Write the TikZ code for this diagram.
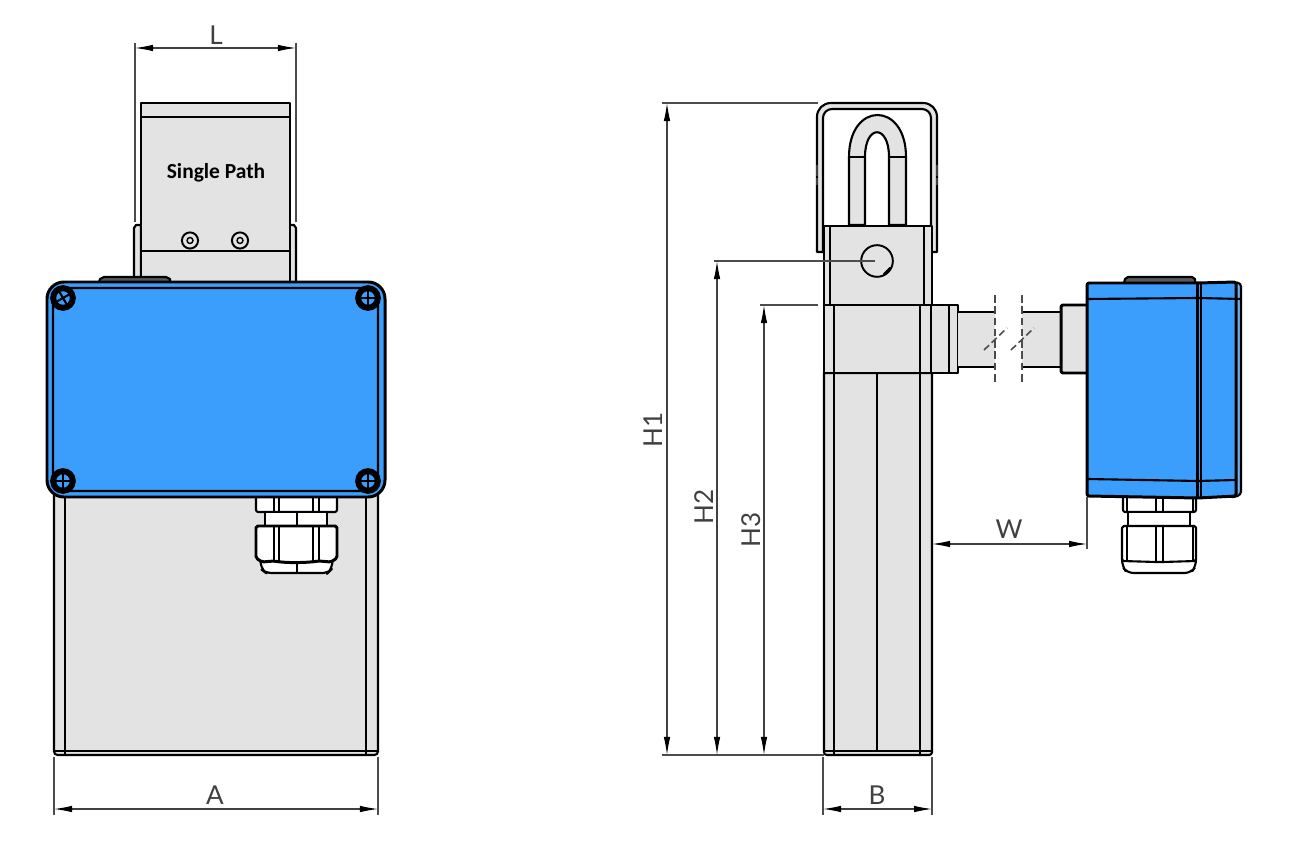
\documentclass[tikz,border=0pt]{standalone}
\usepackage{fontspec}
\setmainfont{Lato}
\newfontfamily\platefont{Carlito}
\usetikzlibrary{arrows.meta}
\definecolor{boxblue}{HTML}{3B9EFD}
\definecolor{stripblue}{HTML}{6FB2EE}
\definecolor{partgrey}{HTML}{E3E3E3}
\definecolor{knobgrey}{HTML}{555A60}
\tikzset{
    part/.style={draw=black,line width=0.6pt,line join=round},
    heavy/.style={draw=black,line width=0.85pt,line join=round},
    dimline/.style={draw=black!75,line width=0.3pt,{Latex[length=1.8mm,width=0.65mm,black]}-{Latex[length=1.8mm,width=0.65mm,black]}},
    extline/.style={draw=black!70,line width=0.3pt},
    dimlabel/.style={font=\fontsize{7.4}{8}\selectfont,text=black!75,inner sep=0pt},
    smallscrew/.style={draw=black,circle,line width=0.55pt,fill=partgrey,minimum size=4.6pt,inner sep=0pt},
    smallbore/.style={draw=black,circle,line width=0.4pt,minimum size=1.7pt,inner sep=0pt},
    boxscrew/.style={draw=black,circle,line width=1.7pt,fill=boxblue,minimum size=5.6pt,inner sep=0pt}
}
\begin{document}
\begin{tikzpicture}[x=0.01cm,y=-0.01cm]
    \useasboundingbox (0,0) rectangle (1300,855);

    %front view, bracket
    \draw[part,fill=partgrey] (134,281) -- (134,228) -- (136,225) -- (141,225) -- (141,281);
    \draw[part,fill=partgrey] (296,281) -- (296,228) -- (294,225) -- (289,225) -- (289,281);
    \draw[part,fill=partgrey] (141,281) -- (141,103) -- (290,103) -- (290,281);
    \draw[part] (141,117) -- (290,117);
    \draw[part] (141,251) -- (290,251);
    \node[font=\platefont\bfseries\fontsize{6.1}{7}\selectfont,inner sep=0pt] (platetext) at (216,173) {Single Path};
    \foreach \x in {190,240} {
        \node[smallscrew] (screw\x) at (\x,240.5) {};
        \node[smallbore] (bore\x) at (\x,240.5) {};
    }
    \draw[part,fill=knobgrey] (99,282) -- (100,279) -- (104,277) -- (166,277) -- (170,279) -- (170,282);

    %front view, body
    \draw[part,fill=partgrey] (54,490) [rounded corners=1] -- (54,755) -- (378,755) [sharp corners] -- (378,490) -- cycle;
    \draw[part] (65,497) -- (65,755);
    \draw[part] (366,497) -- (366,755);
    \draw[part] (54,751) -- (378,751);

    %front view, cable gland
    \draw[part,fill=white,rounded corners=0.6] (256,497) -- (256,512) -- (337,512) -- (337,497);
    \draw[part,fill=white] (265,512) rectangle (327,526);
    \draw[part] (297,512) -- (297,526);
    \draw[part,fill=white,rounded corners=1.6] (260,559) -- (262,570) -- (266,573) -- (328,573) -- (331,570) -- (333,559);
    \draw[part] (297,560) -- (297,573);
    \draw[heavy,fill=white,rounded corners=0.5] (256,526) -- (256,558) -- (262,562) -- (274,561) .. controls (285,563) and (305,563) .. (319,561) -- (331,562) -- (337,558) -- (337,526) -- cycle;
    \foreach \x in {274,279,313,319} {
        \draw[part] (\x,497) -- (\x,512);
        \draw[part] (\x,526) -- (\x,561);
    }

    %front view, blue lid
    \draw[heavy,fill=boxblue,rounded corners=4.8] (47,282) rectangle (385,497);
    \draw[part,rounded corners=2.4] (53,288) rectangle (378,491);
    \foreach \x/\y/\n/\r in {63/298/a/30,368/298/b/0,63/481/c/0,368/481/d/0} {
        \node[boxscrew] (lid\n) at (\x,\y) {};
        \draw[part,rotate around={\r:(\x,\y)}] (\x-7,\y) -- (\x+7,\y);
        \draw[part,rotate around={\r:(\x,\y)}] (\x,\y-7) -- (\x,\y+7);
    }

    %side view, lower body
    \draw[part,fill=partgrey] (824,373) [rounded corners=0.8] -- (824,755) -- (932,755) [sharp corners] -- (932,373) -- cycle;
    \draw[part] (834,373) -- (834,755);
    \draw[part] (920,373) -- (920,755);
    \draw[part] (877,373) -- (877,751);
    \draw[part] (824,751) -- (932,751);

    %side view, hook and bracket
    \draw[part,fill=partgrey] (817,252) -- (817,117) .. controls (817,109) and (823,103) .. (831,103) -- (923,103) .. controls (931,103) and (937,109) .. (937,117) -- (937,252) -- (931,252) -- (931,118) .. controls (931,113) and (927,109) .. (922,109) -- (832,109) .. controls (827,109) and (823,113) .. (823,118) -- (823,252) -- cycle;
    \draw[part,fill=partgrey] (849,225) -- (849,157) .. controls (849,101) and (906,101) .. (906,157) -- (906,225) -- (889,225) -- (889,157) .. controls (889,124) and (865,124) .. (865,157) -- (865,225) -- cycle;
    \draw[part] (849,157) -- (865,157);
    \draw[part] (889,157) -- (906,157);
    \foreach \x in {817,937} {
        \draw[draw=black!75,line width=0.7pt,dashed,dash pattern=on 3pt off 0.6pt] (\x,165) -- (\x,185);
    }

    %side view, upper body and clamp
    \draw[part,fill=partgrey] (824,226) rectangle (932,305);
    \draw[heavy] (824,226) -- (932,226);
    \draw[part] (830,226) -- (830,305);
    \draw[part] (924,226) -- (924,305);
    \node[draw=black,circle,line width=0.55pt,minimum size=9pt,inner sep=0pt] (hole) at (877,261) {};
    \draw[part,fill=knobgrey] (884,274) -- (890,268) -- (887,272) -- cycle;
    \draw[part,fill=partgrey] (824,305) rectangle (958,373);
    \draw[part] (834,305) -- (834,373);
    \draw[part] (920,305) -- (920,373);
    \draw[part] (931,305) -- (931,373);
    \draw[part] (949,305) -- (949,373);

    %side view, cable with break
    \fill[partgrey] (958,312) rectangle (995,367);
    \fill[partgrey] (1022,312) rectangle (1061,367);
    \draw[part] (958,312) -- (995,312);
    \draw[part] (958,367) -- (995,367);
    \draw[part] (1022,312) -- (1061,312);
    \draw[part] (1022,367) -- (1061,367);
    \foreach \x in {995,1022} {
        \draw[extline,dashed,dash pattern=on 2.2pt off 1pt] (\x,295) -- (\x,382);
    }
    \foreach \x in {984,1011} {
        \draw[extline,line width=0.45pt,dashed,dash pattern=on 2pt off 1pt] (\x,350) -- (\x+23,328);
    }
    \draw[heavy,fill=partgrey,rounded corners=0.6] (1087,305) -- (1061,305) -- (1061,373) -- (1087,373);

    %side view, cable gland
    \draw[part,fill=white,rounded corners=0.6] (1123,497) -- (1123,512) -- (1196,512) -- (1196,497);
    \draw[part,fill=white] (1128,512) rectangle (1190,526);
    \draw[part,fill=white,rounded corners=1.8] (1122,560) -- (1122,566) -- (1127,573) -- (1191,573) -- (1196,566) -- (1196,560);
    \draw[part,fill=white,rounded corners=0.5] (1122,526) -- (1122,561) -- (1156,562) -- (1163,562) -- (1196,561) -- (1196,526) -- cycle;
    \foreach \x in {1127,1156,1163,1193} {
        \draw[part] (\x,497) -- (\x,512);
        \draw[part] (\x,526) -- (\x,561);
    }

    %side view, blue housing
    \draw[part,fill=knobgrey] (1124,283) -- (1125,279) -- (1128,277) -- (1192,277) -- (1195,279) -- (1195,283);
    \draw[part,fill=stripblue,rounded corners=1] (1230,282) -- (1241,283) -- (1241,495) -- (1230,498) -- cycle;
    \draw[heavy,fill=boxblue,rounded corners=0.6] (1087,283) -- (1198,283) -- (1236,282) -- (1236,496) -- (1198,498) -- (1087,496) -- cycle;
    \draw[part] (1087,299) -- (1198,298) -- (1241,299);
    \draw[part] (1087,479) -- (1198,481) -- (1236,480);
    \draw[part] (1197.5,283) -- (1197.5,498);
    \draw[part] (1201,283) -- (1201,498);

    %dimensions
    \coordinate (Lleft) at (135,48);
    \coordinate (Lright) at (296,48);
    \coordinate (Ltopl) at (135,43);
    \coordinate (Lbotl) at (135,222);
    \coordinate (Ltopr) at (296,43);
    \coordinate (Lbotr) at (296,222);
    \draw[extline] (Ltopl) -- (Lbotl);
    \draw[extline] (Ltopr) -- (Lbotr);
    \draw[dimline] (Lleft) -- (Lright);
    \node[dimlabel] (labelL) at (216,35) {L};

    \coordinate (Aleft) at (54,809);
    \coordinate (Aright) at (378,809);
    \coordinate (Atopl) at (54,757);
    \coordinate (Abotl) at (54,815);
    \coordinate (Atopr) at (378,757);
    \coordinate (Abotr) at (378,815);
    \draw[extline] (Atopl) -- (Abotl);
    \draw[extline] (Atopr) -- (Abotr);
    \draw[dimline] (Aleft) -- (Aright);
    \node[dimlabel] (labelA) at (215,795) {A};

    \coordinate (Bleft) at (823,809);
    \coordinate (Bright) at (932,809);
    \coordinate (Btopl) at (823,757);
    \coordinate (Bbotl) at (823,815);
    \coordinate (Btopr) at (932,757);
    \coordinate (Bbotr) at (932,815);
    \draw[extline] (Btopl) -- (Bbotl);
    \draw[extline] (Btopr) -- (Bbotr);
    \draw[dimline] (Bleft) -- (Bright);
    \node[dimlabel] (labelB) at (877,795) {B};

    \coordinate (Wleft) at (932,544);
    \coordinate (Wright) at (1087,544);
    \coordinate (Wtop) at (1087,497);
    \coordinate (Wbot) at (1087,549);
    \draw[extline] (Wtop) -- (Wbot);
    \draw[dimline] (Wleft) -- (Wright);
    \node[dimlabel] (labelW) at (1009,529) {W};

    \coordinate (baseL) at (662,755);
    \coordinate (baseR) at (824,755);
    \draw[extline] (baseL) -- (baseR);
    \coordinate (Hatop) at (662,103);
    \coordinate (Hatip) at (818,103);
    \coordinate (Hbtop) at (714,261);
    \coordinate (Hbtip) at (875,261);
    \coordinate (Hctop) at (760,305);
    \coordinate (Hctip) at (818,305);
    \draw[extline] (Hatop) -- (Hatip);
    \draw[extline] (Hbtop) -- (Hbtip);
    \draw[extline] (Hctop) -- (Hctip);
    \coordinate (Haup) at (667,103);
    \coordinate (Hadn) at (667,755);
    \coordinate (Hbup) at (717,261);
    \coordinate (Hbdn) at (717,755);
    \coordinate (Hcup) at (764,305);
    \coordinate (Hcdn) at (764,755);
    \draw[dimline] (Haup) -- (Hadn);
    \draw[dimline] (Hbup) -- (Hbdn);
    \draw[dimline] (Hcup) -- (Hcdn);
    \node[dimlabel,rotate=90] (labelHa) at (653,430) {H1};
    \node[dimlabel,rotate=90] (labelHb) at (704,507) {H2};
    \node[dimlabel,rotate=90] (labelHc) at (751,530) {H3};
\end{tikzpicture}
\end{document}
